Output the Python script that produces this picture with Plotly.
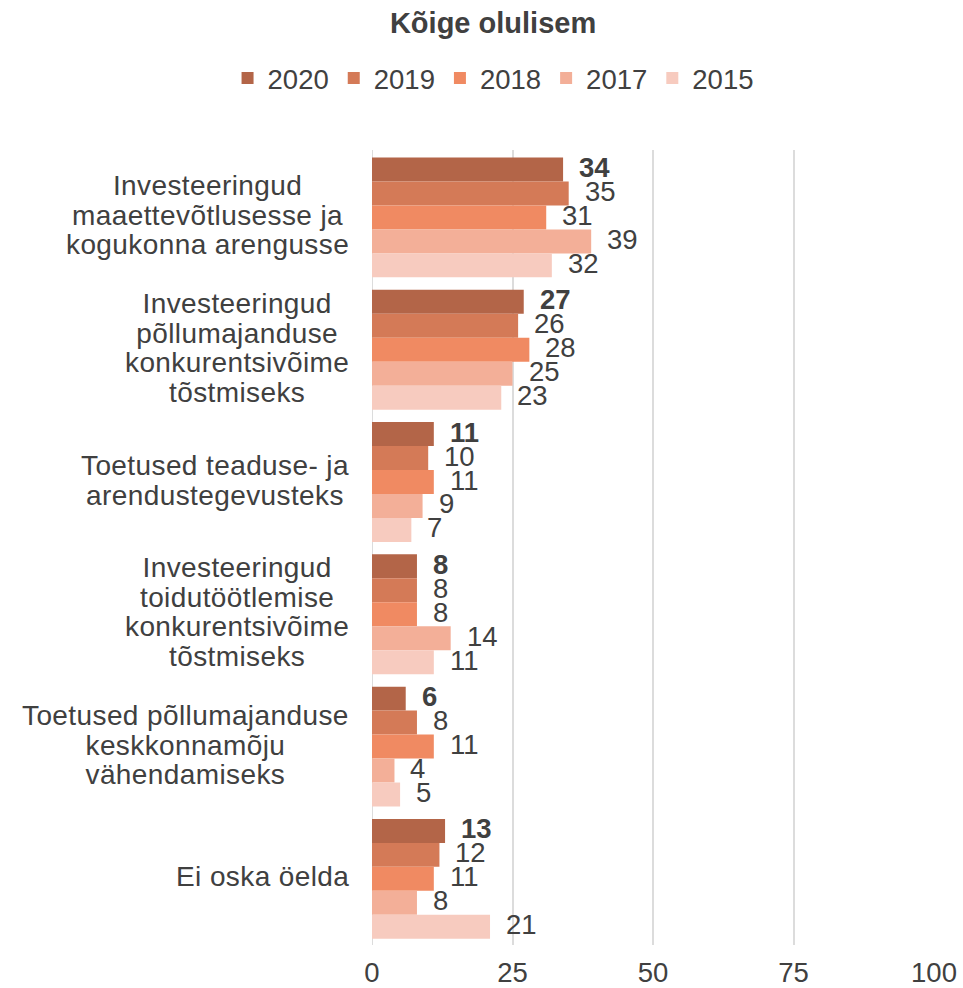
import plotly.graph_objects as go

categories = [
    "Investeeringud<br>maaettevõtlusesse ja<br>kogukonna arengusse",
    "Investeeringud<br>põllumajanduse<br>konkurentsivõime<br>tõstmiseks",
    "Toetused teaduse- ja<br>arendustegevusteks",
    "Investeeringud<br>toidutöötlemise<br>konkurentsivõime<br>tõstmiseks",
    "Toetused põllumajanduse<br>keskkonnamõju<br>vähendamiseks",
    "Ei oska öelda",
]
years = ["2020", "2019", "2018", "2017", "2015"]
values = {
    "2020": [34, 27, 11, 8, 6, 13],
    "2019": [35, 26, 10, 8, 8, 12],
    "2018": [31, 28, 11, 8, 11, 11],
    "2017": [39, 25, 9, 14, 4, 8],
    "2015": [32, 23, 7, 11, 5, 21],
}
colors = {
    "2020": "#B36548",
    "2019": "#D47A57",
    "2018": "#F08A62",
    "2017": "#F3AF98",
    "2015": "#F7CBBF",
}
title_text = "Kõige olulisem"
x_ticks = [0, 25, 50, 75, 100]

FONT = "Liberation Sans, Arial, sans-serif"
TXT = "#404040"
BARGAP = 0.094

fig = go.Figure()
ids = list(range(len(categories)))
for yr in years:
    fig.add_trace(go.Bar(
        y=ids, x=values[yr], name=yr, orientation="h",
        marker=dict(color=colors[yr], line=dict(width=0)),
        hoverinfo="x+name",
    ))

annotations = []
n = len(years)
w = (1 - BARGAP) / n
for i, yr in enumerate(years):
    off = -0.5 * (1 - BARGAP) + (i + 0.5) * w
    for ci, v in enumerate(values[yr]):
        txt = f"<b>{v}</b>" if i == 0 else str(v)
        annotations.append(dict(
            x=v, y=ci + off, xref="x", yref="y", text=txt, showarrow=False,
            xanchor="left", yanchor="middle", xshift=14, yshift=2,
            font=dict(family=FONT, size=27.5, color=TXT),
        ))

for ci, lab in enumerate(categories):
    lines = lab.split("<br>")
    styled = "<br>".join(
        f'<span style="font-size:28px;letter-spacing:0.4px">{l}</span>' for l in lines)
    annotations.append(dict(
        x=-0.037, y=ci, xref="paper", yref="y", text=styled, showarrow=False,
        xanchor="right", yanchor="middle", align="center", yshift=2,
        font=dict(family=FONT, size=22.7, color=TXT),
    ))

fig.update_layout(
    width=963, height=988,
    margin=dict(l=372, r=29, t=150, b=43, autoexpand=False),
    paper_bgcolor="white", plot_bgcolor="white",
    barmode="group", bargap=BARGAP, bargroupgap=0,
    font=dict(family=FONT, size=27.5, color=TXT),
    title=dict(text=f"<b>{title_text}</b>", x=0.512, xref="container", xanchor="center",
               y=0.977, yref="container", yanchor="middle",
               font=dict(family=FONT, size=29, color=TXT)),
    legend=dict(orientation="h", x=0.512, xanchor="center", xref="container",
                y=0.921, yref="container", yanchor="middle",
                font=dict(family=FONT, size=27.5, color=TXT),
                itemwidth=30, traceorder="normal"),
    xaxis=dict(range=[0, 100], tickvals=x_ticks, showgrid=True, gridcolor="#DCDCDC",
               gridwidth=2, zeroline=False, showline=False, ticks="",
               ticklabelstandoff=8, automargin=False,
               tickfont=dict(family=FONT, size=27.5, color=TXT), fixedrange=True),
    yaxis=dict(autorange="reversed", showticklabels=False, showgrid=False,
               zeroline=False, showline=False, ticks="", range=[5.5, -0.5],
               automargin=False),
    annotations=annotations,
    showlegend=True,
)
fig.add_shape(type="line", xref="x", yref="paper", x0=0, x1=0, y0=0, y1=1,
              line=dict(color="#DCDCDC", width=2), layer="below")

fig.write_html(
    "out.html",
    config={"displayModeBar": False},
    post_script="document.body.style.margin='0';document.body.style.overflow='hidden';",
)
